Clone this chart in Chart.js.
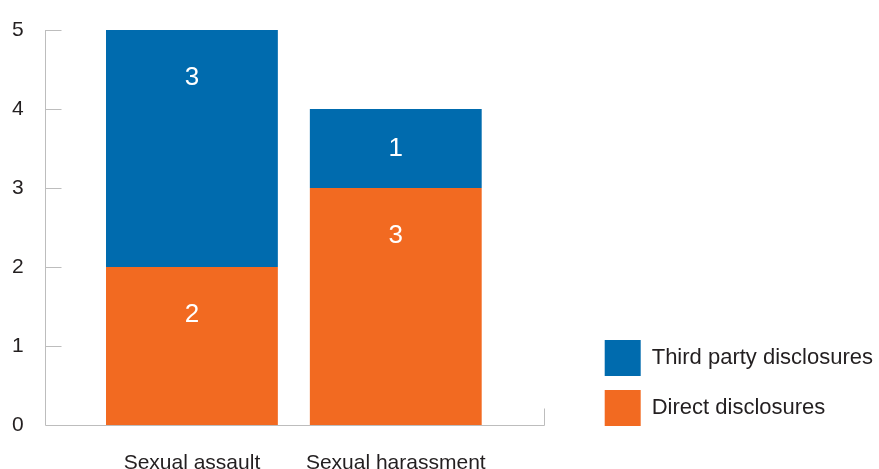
<!DOCTYPE html>
<html>
<head>
<meta charset="utf-8">
<script src="https://cdn.jsdelivr.net/npm/chart.js@4/dist/chart.umd.min.js"></script>
<style>
  body { margin: 0; background: #fff; }
</style>
</head>
<body>
<canvas id="disclosuresChart" width="879" height="469"></canvas>
<script>
// DISCLOSURES - STACKED BAR

const categories = ["Sexual assault", "Sexual harassment"];
const directValues = [2, 3];
const thirdPartyValues = [3, 1];
const yTicks = [0, 1, 2, 3, 4, 5];

const blue = "#006bae";
const orange = "#f26a21";
const axisGrey = "#bdbdbd";
const textColor = "#231f20";

Chart.defaults.font.family = "'Liberation Sans', Arial, Helvetica, sans-serif";
Chart.defaults.color = textColor;

// axis lines drawn past the bars, ticks pointing into the plot
const axisLines = {
    id: "axisLines",
    beforeDatasetsDraw(chart) {
        const ctx = chart.ctx;
        const y = chart.scales.y;
        const area = chart.chartArea;
        const left = Math.round(area.left - 45) + 0.5;
        const right = Math.round(area.right + 46) + 0.5;
        const zero = Math.round(y.getPixelForValue(0)) + 0.5;
        ctx.save();
        ctx.strokeStyle = axisGrey;
        ctx.lineWidth = 1;
        ctx.beginPath();
        ctx.moveTo(left, y.getPixelForValue(yTicks[yTicks.length - 1]));
        ctx.lineTo(left, zero);
        ctx.lineTo(right, zero);
        ctx.lineTo(right, zero - 17);
        yTicks.slice(1).forEach(v => {
            const py = Math.round(y.getPixelForValue(v)) + 0.5;
            ctx.moveTo(left, py);
            ctx.lineTo(left + 16, py);
        });
        ctx.stroke();
        ctx.restore();
    }
};

// white numbers inside each segment, near its top
const segmentLabels = {
    id: "segmentLabels",
    afterDatasetsDraw(chart) {
        const ctx = chart.ctx;
        ctx.save();
        ctx.fillStyle = "#fff";
        ctx.font = "26px 'Liberation Sans', Arial, sans-serif";
        ctx.textAlign = "center";
        ctx.textBaseline = "middle";
        chart.data.datasets.forEach((ds, i) => {
            chart.getDatasetMeta(i).data.forEach((bar, j) => {
                const p = bar.getProps(["x", "y", "base"], true);
                const ly = Math.min(p.y + 48, (p.y + p.base) / 2);
                ctx.fillText(String(ds.data[j]), p.x, ly);
            });
        });
        ctx.restore();
    }
};

// let the legend be as wide as its text needs, and sit it on the x axis
const wideLegend = {
    id: "wideLegend",
    afterInit(chart) {
        const lg = chart.legend;
        const origUpdate = lg.update.bind(lg);
        lg.update = (mw, mh, margins) => origUpdate(Math.max(mw, 320), mh, margins);
    },
    afterLayout(chart) {
        const lg = chart.legend;
        lg.top += 15;
        lg.bottom += 15;
        lg.left += 4;
        lg.right += 4;
    }
};

const chartDiv = document.getElementById("disclosuresChart");

const chartData = {
    labels: categories,
    datasets: [
        {
            label: "Direct disclosures",
            data: directValues,
            backgroundColor: orange,
            borderWidth: 0,
            categoryPercentage: 1,
            barPercentage: 0.843
        },
        {
            label: "Third party disclosures",
            data: thirdPartyValues,
            backgroundColor: blue,
            borderWidth: 0,
            categoryPercentage: 1,
            barPercentage: 0.843
        }
    ]
};

const disclosuresChart = new Chart(chartDiv, {
    type: "bar",
    data: chartData,
    options: {
        responsive: false,
        animation: false,
        layout: { padding: { left: 12, top: 30, right: 0, bottom: 0 } },
        plugins: {
            tooltip: { enabled: false },
            legend: {
                position: "right",
                align: "end",
                fullSize: false,
                reverse: true,
                labels: {
                    boxWidth: 36,
                    boxHeight: 36,
                    padding: 14,
                    color: textColor,
                    font: { size: 22 }
                }
            }
        },
        scales: {
            x: {
                stacked: true,
                grid: { display: false },
                border: { display: false },
                ticks: { padding: 18, color: textColor, font: { size: 21 } },
                afterFit: s => { s.height = 44; }
            },
            y: {
                stacked: true,
                min: 0,
                max: 5,
                grid: { display: false },
                border: { display: false },
                ticks: {
                    stepSize: 1,
                    crossAlign: "far",
                    color: textColor,
                    font: { size: 21 }
                },
                afterFit: s => { s.width = 78; }
            },
            gap: {
                type: "linear",
                position: "right",
                display: true,
                grid: { display: false },
                border: { display: false },
                ticks: { display: false },
                afterFit: s => { s.width = 89; }
            }
        }
    },
    plugins: [wideLegend, axisLines, segmentLabels]
});
</script>
</body>
</html>
